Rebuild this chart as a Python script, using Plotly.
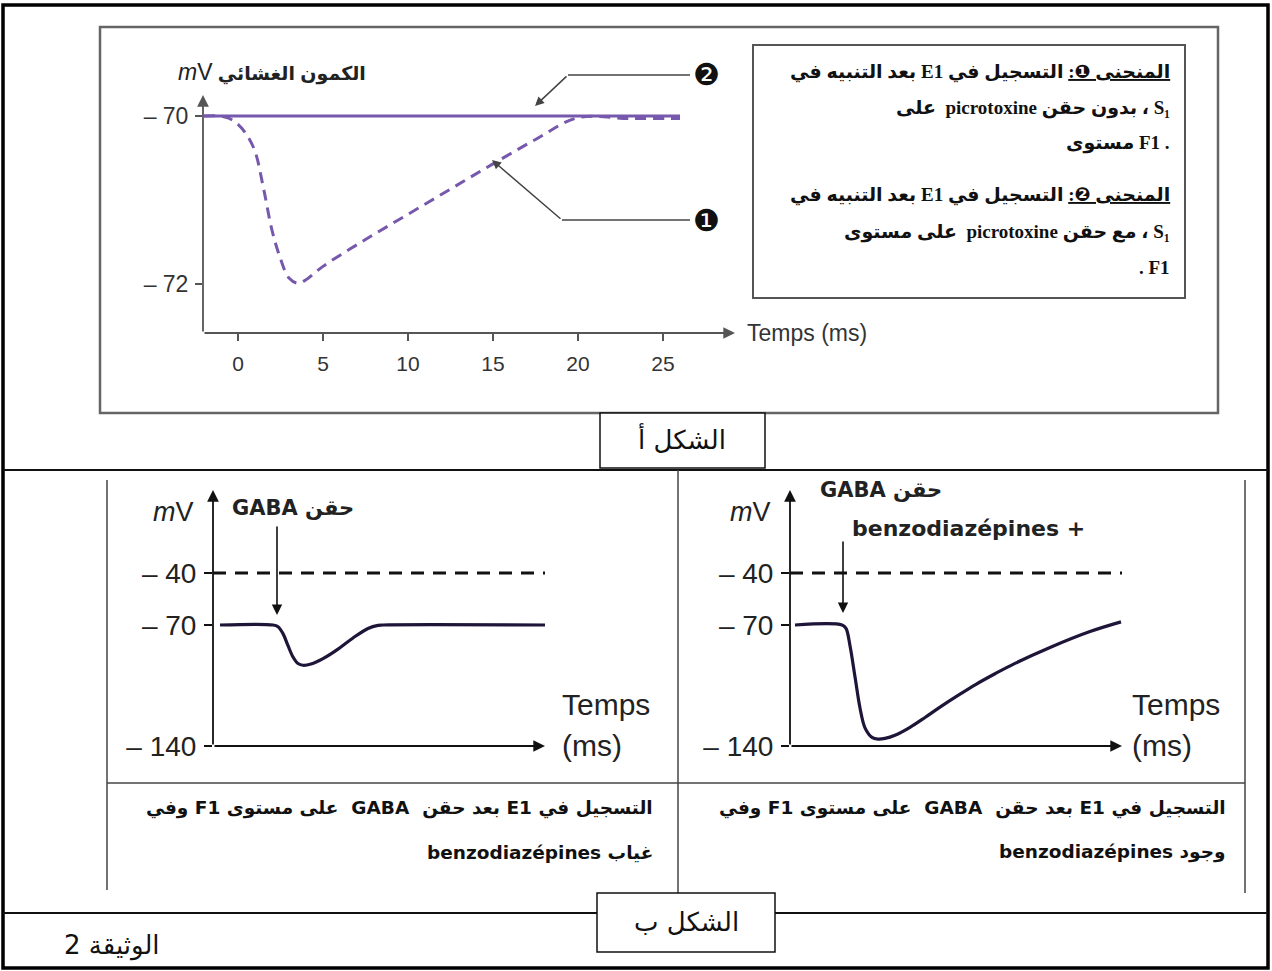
import plotly.graph_objects as go

W, H = 1272, 971

# ---------------- DATA ----------------
# Figure A (الشكل أ) : membrane potential (mV) vs time (ms)
time_a_curve1 = [-2, -1, -0.5, 0, 0.5, 1, 1.5, 2, 2.5, 3, 3.5, 4, 4.5, 5, 7.5, 10, 12.5, 15, 17.5, 20, 23, 26]
mv_a_curve1 = [-70, -70, -70.03, -70.1, -70.22, -70.42, -70.86, -71.36, -71.7, -71.93, -71.99, -71.95,
               -71.87, -71.79, -71.47, -71.17, -70.87, -70.57, -70.28, -70.02, -70.03, -70.03]
time_a_curve2 = [-2, 26]
mv_a_curve2 = [-70, -70]
a_xticks = [0, 5, 10, 15, 20, 25]
a_yticks = [-70, -72]
a_yticktext = ["– 70", "– 72"]

# Figure B (الشكل ب) : left = without benzodiazepines, right = with benzodiazepines
time_b_left = [0.7, 6.0, 6.5, 7, 7.5, 8, 8.5, 9, 9.8, 11, 12.5, 14, 15.5, 16.5, 17, 33.2]
mv_b_left = [-70, -70, -71, -75, -82, -88.5, -92.3, -93.3, -92.6, -89.5, -84, -77.5, -72, -70.2, -70, -70]
time_b_right = [0.5, 5.2, 5.6, 6, 6.5, 7, 7.5, 8.2, 8.8, 9.5, 10.5, 12, 13.5, 15, 17, 18.6, 20.5, 22.5,
                26, 30, 33.1]
mv_b_right = [-70, -70, -72, -82, -100, -118, -129.5, -135, -136, -135.6, -133.8, -129.2, -123.5, -117.5,
              -110, -104.3, -98.2, -92.2, -83, -73.8, -68.2]
threshold_mv = -40
b_time_span = [0, 33.2]
b_yticks = [-40, -70, -140]
b_yticktext = ["– 40", "– 70", "– 140"]
gaba_time_left = 6.4
gaba_time_right = 5.3


def px(x):
    return x / W


def py(y):
    return 1 - y / H


def R(s):
    return "\u202b" + s + "\u202c"


fig = go.Figure()

purple = "#7658ad"
dark = "#1e1538"

# Figure A traces
fig.add_trace(go.Scatter(x=time_a_curve2, y=mv_a_curve2, mode="lines",
                         line=dict(color=purple, width=3), xaxis="x", yaxis="y",
                         showlegend=False, hoverinfo="skip"))
fig.add_trace(go.Scatter(x=time_a_curve1, y=mv_a_curve1, mode="lines", line_shape="spline",
                         line=dict(color=purple, width=3, dash="11px,7px"), xaxis="x", yaxis="y",
                         showlegend=False, hoverinfo="skip"))

# Figure B traces
for xa, ya, tt, mm in [("x2", "y2", time_b_left, mv_b_left), ("x3", "y3", time_b_right, mv_b_right)]:
    fig.add_trace(go.Scatter(x=b_time_span, y=[threshold_mv, threshold_mv], mode="lines",
                             line=dict(color="#111", width=3, dash="13px,9px"),
                             xaxis=xa, yaxis=ya, showlegend=False, hoverinfo="skip"))
    fig.add_trace(go.Scatter(x=tt, y=mm, mode="lines", line_shape="spline",
                             line=dict(color=dark, width=3.2), xaxis=xa, yaxis=ya,
                             showlegend=False, hoverinfo="skip"))

tickfont_a = dict(family="Liberation Sans, Arial", size=23, color="#333")
tickfont_ax = dict(family="Liberation Sans, Arial", size=21, color="#333")
tickfont_b = dict(family="Liberation Sans, Arial", size=28, color="#222")

a_xr = [(203 - 238) / 17, (735 - 238) / 17]
a_yr = [-70 - (333 - 116) / 84, -70 + (116 - 95) / 84]
b_yr = [-140, -70 + (625 - 490) / 1.729]

layout = dict(
    autosize=True,
    margin=dict(l=0, r=0, t=0, b=0, autoexpand=False),
    paper_bgcolor="white", plot_bgcolor="rgba(0,0,0,0)",
    xaxis=dict(domain=[px(203), px(735)], range=a_xr, showgrid=False, zeroline=False, showline=False,
               tickvals=a_xticks, ticktext=[str(v) for v in a_xticks], ticks="outside", ticklen=7,
               tickwidth=1.5, tickcolor="#555", tickfont=tickfont_ax, anchor="y", ticklabelstandoff=5),
    yaxis=dict(domain=[py(333), py(95)], range=a_yr, showgrid=False, zeroline=False, showline=False,
               tickvals=a_yticks, ticktext=a_yticktext, ticks="outside", ticklen=7, tickwidth=1.5,
               tickcolor="#555", tickfont=tickfont_a, anchor="x", ticklabelstandoff=2),
    xaxis2=dict(domain=[px(213), px(545)], range=b_time_span, showgrid=False, zeroline=False,
                showline=False, showticklabels=False, ticks="", anchor="y2"),
    yaxis2=dict(domain=[py(746), py(490)], range=b_yr, showgrid=False, zeroline=False, showline=False,
                tickvals=b_yticks, ticktext=b_yticktext, ticks="outside", ticklen=8, tickwidth=1.5,
                tickcolor="#111", tickfont=tickfont_b, anchor="x2", ticklabelstandoff=2),
    xaxis3=dict(domain=[px(790), px(1122)], range=b_time_span, showgrid=False, zeroline=False,
                showline=False, showticklabels=False, ticks="", anchor="y3"),
    yaxis3=dict(domain=[py(746), py(490)], range=b_yr, showgrid=False, zeroline=False, showline=False,
                tickvals=b_yticks, ticktext=b_yticktext, ticks="outside", ticklen=8, tickwidth=1.5,
                tickcolor="#111", tickfont=tickfont_b, anchor="x3", ticklabelstandoff=2),
)
fig.update_layout(**layout)

shapes = []


def line(x0, y0, x1, y1, color="#111", width=2):
    shapes.append(dict(type="line", xref="paper", yref="paper", x0=px(x0), y0=py(y0), x1=px(x1), y1=py(y1),
                       line=dict(color=color, width=width), layer="above"))


def rect(x0, y0, x1, y1, color="#111", width=2, fill="rgba(0,0,0,0)"):
    shapes.append(dict(type="rect", xref="paper", yref="paper", x0=px(x0), y0=py(y0), x1=px(x1), y1=py(y1),
                       line=dict(color=color, width=width), fillcolor=fill, layer="above"))


# frames
rect(3, 5, 1268, 968, "#000", 3.5)
line(3, 470, 1268, 470, "#111", 2)
rect(100, 27, 1218, 413, "#666", 2.5)
rect(753, 45, 1185, 298, "#555", 2)
rect(600, 413, 765, 468, "#111", 1.5, "white")
line(107, 480, 107, 890, "#444", 1.5)
line(678, 470, 678, 893, "#444", 1.5)
line(1245, 480, 1245, 893, "#444", 1.5)
line(107, 783, 1245, 783, "#444", 1.5)
line(3, 913, 1268, 913, "#111", 2)
rect(597, 893, 775, 952, "#111", 1.5, "white")
# leader lines (figure A)
line(690, 75, 568, 75, "#444", 1.5)
line(690, 220, 562, 220, "#444", 1.5)
fig.update_layout(shapes=shapes)

ann = []


def text(x, y, s, size, xanchor="center", family="DejaVu Sans", color="#111", weight="normal"):
    ann.append(dict(xref="paper", yref="paper", x=px(x), y=py(y), text=s, showarrow=False,
                    xanchor=xanchor, yanchor="middle",
                    font=dict(family=family, size=size, color=color, weight=weight)))


def arrow_paper(x0, y0, x1, y1, color="#444", width=1.5, head=2, size=1.2):
    ann.append(dict(xref="paper", yref="paper", x=px(x1), y=py(y1), axref="pixel", ayref="pixel",
                    ax=x0 - x1, ay=y0 - y1, text="", showarrow=True, arrowhead=head,
                    arrowsize=size, arrowwidth=width, arrowcolor=color))


def arrow_data(xa, ya, x0, y0, x1, y1, color="#111", width=1.6, head=2, size=1.3):
    ann.append(dict(xref=xa, yref=ya, x=x1, y=y1, axref=xa, ayref=ya, ax=x0, ay=y0, text="",
                    showarrow=True, arrowhead=head, arrowsize=size, arrowwidth=width, arrowcolor=color))


# axes with arrows
arrow_data("x", "y", a_xr[0], a_yr[0], a_xr[1], a_yr[0], "#555", 1.8)
arrow_data("x", "y", a_xr[0], a_yr[0], a_xr[0], a_yr[1], "#555", 1.8)
for xa, ya in [("x2", "y2"), ("x3", "y3")]:
    arrow_data(xa, ya, b_time_span[0], b_yr[0], b_time_span[1], b_yr[0], "#111", 1.8)
    arrow_data(xa, ya, b_time_span[0], b_yr[0], b_time_span[0], b_yr[1], "#111", 1.8)

# GABA injection arrows
arrow_data("x2", "y2", gaba_time_left, -12.2, gaba_time_left, -64.2, "#111", 1.6)
arrow_data("x3", "y3", gaba_time_right, -20.9, gaba_time_right, -63.0, "#111", 1.6)

# leader arrows figure A
arrow_paper(568, 75, 535, 106, "#444", 1.5)
arrow_paper(562, 220, 492, 160, "#444", 1.5)

# figure A texts
text(368, 72, R("<b>الكمون الغشائي</b> <span style='font-size:23px'><i>m</i>V</span>"), 19, "right",
     "Liberation Sans, DejaVu Sans", "#222")
text(745, 333, "Temps (ms)", 23, "left", "Liberation Sans, Arial", "#333")
text(706, 75, "❷", 30, "center", "DejaVu Sans", "#111")
text(706, 220, "❶", 30, "center", "DejaVu Sans", "#111")

box_font = "Liberation Serif, DejaVu Sans"
text(1172, 72, R("<u>المنحنى ❶:</u> التسجيل في E1 بعد التنبيه في"), 19, "right", box_font, "#111", "bold")
text(1172, 108, R("S₁ ، بدون حقن picrotoxine  على"), 19, "right", box_font, "#111", "bold")
text(1172, 143, "مستوى F1 .", 19, "right", box_font, "#111", "bold")
text(1172, 195, R("<u>المنحنى ❷:</u> التسجيل في E1 بعد التنبيه في"), 19, "right", box_font, "#111", "bold")
text(1172, 232, R("S₁ ، مع حقن picrotoxine  على مستوى"), 19, "right", box_font, "#111", "bold")
text(1172, 268, ". F1", 19, "right", box_font, "#111", "bold")

text(682, 438, R("الشكل أ"), 26, "center", "DejaVu Sans", "#111")
text(686, 922, R("الشكل ب"), 26, "center", "DejaVu Sans", "#111")
text(112, 945, R("الوثيقة 2"), 26, "center", "DejaVu Sans", "#111")

# figure B texts
for x_axis_px, x_temps in [(213, 560), (790, 1130)]:
    text(x_axis_px - 40, 512, "<i>m</i>V", 27, "center", "Liberation Sans, Arial", "#222")
    text(x_temps, 704, "Temps", 30, "left", "Liberation Sans, Arial", "#222")
    text(x_temps, 745, "(ms)", 30, "left", "Liberation Sans, Arial", "#222")

text(230, 508, R("حقن GABA"), 21, "left", "DejaVu Sans", "#222", "bold")
text(818, 490, R("حقن GABA"), 21, "left", "DejaVu Sans", "#222", "bold")
text(850, 528, R("+ benzodiazépines"), 22, "left", "DejaVu Sans", "#222", "bold")

bfont = "DejaVu Sans"
text(655, 808, R("التسجيل في E1 بعد حقن  GABA  على مستوى F1 وفي"), 18.5, "right", bfont, "#111", "bold")
text(655, 852, R("غياب benzodiazépines"), 18.5, "right", bfont, "#111", "bold")
text(1228, 808, R("التسجيل في E1 بعد حقن  GABA  على مستوى F1 وفي"), 18.5, "right", bfont, "#111", "bold")
text(1228, 852, R("وجود benzodiazépines"), 18.5, "right", bfont, "#111", "bold")

fig.update_layout(annotations=ann)

fig.write_html("out.html", config={"displayModeBar": False, "responsive": True},
               default_width="100vw", default_height="100vh",
               post_script="document.body.style.margin='0px';document.body.style.overflow='hidden';")
